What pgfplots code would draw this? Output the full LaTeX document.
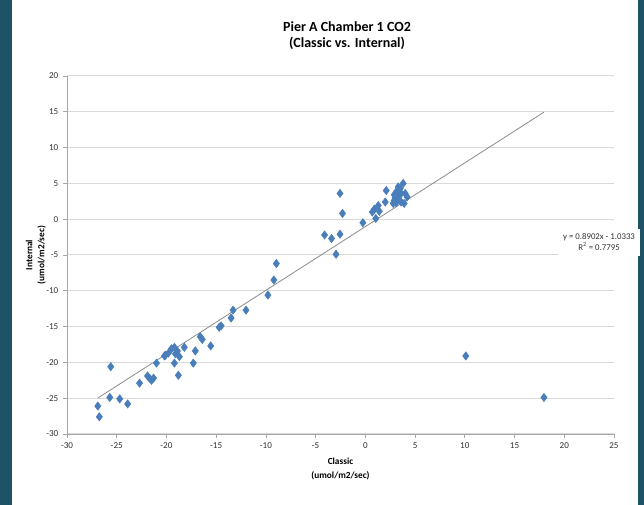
\documentclass[border=0pt]{standalone}
\usepackage{pgfplots}
\pgfplotsset{compat=1.18}
\usepackage{fontspec}
\setmainfont{Carlito}

\definecolor{slide}{HTML}{1E5266}
\definecolor{markblue}{HTML}{4A7EBB}
\definecolor{gridgray}{HTML}{D9D9D9}
\definecolor{axisgray}{HTML}{A6A6A6}
\definecolor{trendgray}{HTML}{8C8C8C}

\begin{document}
\begin{tikzpicture}
\useasboundingbox (0,0) rectangle (483pt,378.75pt);
% slide background and white chart area
\fill[slide] (0,0) rectangle (483pt,378.75pt);
\fill[white] (9pt,0) rectangle (478.5pt,378.75pt);

\begin{axis}[
  scale only axis,
  width=410.25pt, height=268.5pt,
  at={(50.25pt,53.25pt)}, anchor=south west,
  xmin=-30, xmax=25, ymin=-30, ymax=20,
  xtick={-30,-25,...,25}, ytick={-30,-25,...,20},
  axis x line=bottom, axis y line=left,
  axis line style={-, axisgray, line width=0.6pt},
  ymajorgrids,
  major grid style={gridgray, line width=0.75pt},
  tick align=outside, major tick length=3pt,
  tick style={axisgray, line width=0.6pt},
  ticklabel style={font=\fontsize{6.8}{8}\selectfont, text=black!80},
  /pgf/number format/assume math mode=true,
  xlabel={Classic\\(umol/m2/sec)},
  ylabel={Internal\\(umol/m2/sec)},
  xlabel style={at={(axis description cs:0.5,-0.098)}, anchor=center, align=center,
    font=\bfseries\fontsize{7}{10}\selectfont},
  ylabel style={at={(axis description cs:-0.057,0.5)}, anchor=center, align=center,
    font=\bfseries\fontsize{7}{9}\selectfont},
  clip=false,
]
% linear trendline over the data range
\addplot[trendgray, line width=0.6pt] coordinates {(-26.9,-24.98) (17.96,14.95)};

\addplot[only marks, mark=diamond*, mark size=3.1pt, color=markblue] coordinates {
(-26.9,-26.1) (-26.75,-27.6) (-25.7,-24.9) (-25.6,-20.6) (-24.7,-25.1)
(-23.9,-25.8) (-22.7,-22.9) (-21.9,-21.9) (-21.7,-22.2) (-21.5,-22.5)
(-21.3,-22.2) (-21.0,-20.1) (-20.2,-19.1) (-20.1,-19.0) (-19.8,-18.7)
(-19.5,-18.1) (-19.2,-17.9) (-19.2,-20.1) (-19.1,-18.8) (-18.9,-18.4)
(-18.8,-21.8) (-18.7,-19.2) (-18.2,-17.9) (-17.3,-20.1) (-17.1,-18.4)
(-16.6,-16.4) (-16.4,-16.8) (-15.55,-17.7) (-14.7,-15.1) (-14.5,-14.9)
(-13.5,-13.8) (-13.3,-12.7) (-12.0,-12.7)
(-9.8,-10.6) (-9.2,-8.5) (-8.95,-6.2)
(-4.1,-2.2) (-3.4,-2.7) (-2.55,3.6) (-2.3,0.8) (-2.55,-2.1) (-2.95,-4.9)
(-0.25,-0.5) (0.7,1.0) (1.05,0.1) (1.3,1.9) (1.4,1.1) (0.9,1.4)
(2.0,2.4) (2.1,4.0) (2.8,2.2) (2.9,2.6) (3.0,3.0) (3.15,3.9) (3.3,3.1)
(3.5,4.3) (3.8,5.0) (3.6,2.4) (3.9,2.2) (4.2,3.1) (3.3,4.5) (3.6,3.6)
(2.9,3.4) (3.1,2.3) (4.0,3.6)
(10.1,-19.1) (17.96,-24.9)
};
\end{axis}

% chart title
\node[align=center, font=\bfseries\fontsize{10.5}{12}\selectfont] at (260.25pt,351.75pt)
  {Pier A Chamber 1 CO2\\(Classic vs. Internal)};

% trendline equation label
\node[fill=white, align=center, inner xsep=4pt, inner ysep=4pt,
      font=\fontsize{6.6}{8.25}\selectfont, text=black!80] at (449.25pt,196.9pt)
  {y = 0.8902x - 1.0333\\R\textsuperscript{2} = 0.7795};
\end{tikzpicture}
\end{document}
